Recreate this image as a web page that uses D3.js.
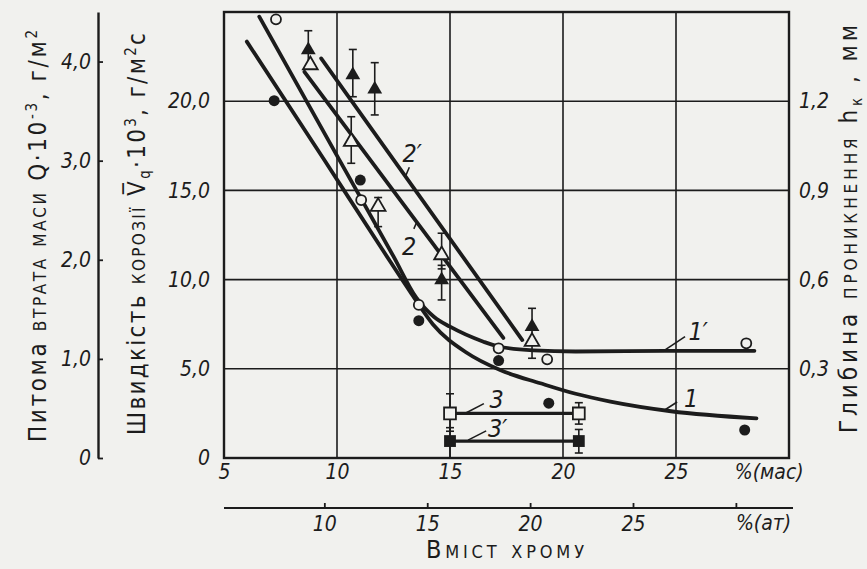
<!DOCTYPE html>
<html><head><meta charset="utf-8">
<script src="https://cdn.jsdelivr.net/npm/d3@7"></script>
<style>
body{margin:0;background:#f1f1ee;}
svg{display:block}
text{fill:#1c1c1c;font-family:"DejaVu Sans Condensed","DejaVu Sans",sans-serif;font-stretch:condensed;}
</style></head><body><svg id="c" width="867" height="569"></svg>
<script>
// ---- data ----
const massTicks=[5,10,15,20,25];
const atTicks=[10,15,20,25,30];
const atRef=[10,30], atRefMass=[9.44,27.65];   // at.% ↔ mass.% correspondence for the lower scale
const vTicks=[0,5,10,15,20];
const qTicks=[0,1,2,3,4];
const hTicks=[0.3,0.6,0.9,1.2];
const gridX=[10,15,20,25];
const gridY=[5,10,15,20];

const curve1=[[6.01,23.34],[9.44,16.70],[12.0,11.7],[13.3,9.2],[14.24,7.5],[15.74,5.9],[17.22,4.93],[19.0,4.19],[20.56,3.6],[22.1,3.16],[24.78,2.62],[28.56,2.22]];
const curve1p=[[6.56,24.74],[10.11,16.70],[12.5,11.3],[13.5,9.0],[14.3,7.9],[15.0,7.36],[16.48,6.52],[17.15,6.25],[18.69,6.03],[20.56,5.97],[24.5,6.0],[28.47,6.01]];
const line2=[[8.56,21.65],[17.36,6.73]];
const line2p=[[9.30,22.40],[18.2,6.61]];
const line3=[[15.0,2.5],[20.7,2.5]];
const line3p=[[15.0,0.95],[20.7,0.95]];

const openCircles=[[7.30,24.59],[11.07,14.46],[13.62,8.58],[17.15,6.15],[19.30,5.53],[28.11,6.43]];
const filledCircles=[[7.22,20.03],[11.03,15.58],[13.62,7.70],[17.15,5.46],[19.37,3.07],[28.04,1.57]];
const filledTriangles=[[8.73,22.87,21.9,23.95],[10.70,21.47,20.25,22.9],[11.67,20.67,19.23,22.16],[14.63,9.98,8.86,10.8],[18.63,7.36,5.59,8.39]];
const openTriangles=[[8.82,22.03,null,null],[10.63,17.73,16.52,19.13],[11.82,14.09,12.97,14.6],[14.63,11.38,10.6,12.6],[18.63,6.52,null,null]];
const openSquares=[[15.0,2.5,1.5,3.6],[20.7,2.5,1.9,3.1]];
const filledSquares=[[15.0,0.95,0.0,1.7],[20.7,0.95,0.28,1.6]];

// curve labels: [text, x, y, leaderX1, leaderY1, leaderX2, leaderY2] (data units)
const curveLabels=[
  ["1′",25.55,6.6,24.5,6.05,25.4,6.8],
  ["1",25.35,2.86,24.5,2.69,25.05,3.14],
  ["2′",12.9,16.6,13.05,15.85,13.2,16.3],
  ["2",12.88,11.4,13.4,12.84,13.52,13.2],
  ["3",16.75,2.8,15.7,2.52,16.5,3.05],
  ["3′",16.68,1.18,15.8,1.0,16.6,1.52]
];

// ---- drawing ----
const W=867,H=569, ink="#1c1c1c", bg="#f1f1ee";
const svg=d3.select("#c");
svg.append("rect").attr("width",W).attr("height",H).attr("fill",bg);

const xM=d3.scaleLinear().domain([5,30]).range([224,789]);
const yV=d3.scaleLinear().domain([0,25]).range([458,12]);
const yQ=d3.scaleLinear().domain([0,4.5]).range([458,12]);
const yH=d3.scaleLinear().domain([0,1.5]).range([458,12]);
const xA=d3.scaleLinear().domain(atRef).range(atRefMass.map(xM));
const comma=d=>d===0?"0":d3.format(".1f")(d).replace(".",",");

// grid
svg.append("g").selectAll("line").data(gridX).join("line")
  .attr("x1",d=>xM(d)).attr("x2",d=>xM(d)).attr("y1",yV(25)).attr("y2",yV(0))
  .attr("stroke",ink).attr("stroke-width",1.6);
svg.append("g").selectAll("line").data(gridY).join("line")
  .attr("x1",xM(5)).attr("x2",xM(30)).attr("y1",d=>yV(d)).attr("y2",d=>yV(d))
  .attr("stroke",ink).attr("stroke-width",1.6);
svg.append("rect").attr("x",xM(5)).attr("y",yV(25)).attr("width",xM(30)-xM(5)).attr("height",yV(0)-yV(25))
  .attr("fill","none").attr("stroke",ink).attr("stroke-width",2.4);

function styleAxis(g){
  g.selectAll("text").attr("font-size",21).attr("font-style","italic").attr("fill",ink);
  g.selectAll("line").attr("stroke",ink).attr("stroke-width",1.8);
  g.selectAll("path").attr("stroke",ink).attr("stroke-width",2.4);
}
// mass axis
const gm=svg.append("g").attr("transform",`translate(0,${yV(0)})`)
  .call(d3.axisBottom(xM).tickValues(massTicks).tickSize(0).tickPadding(6).tickFormat(d3.format("d")));
gm.select(".domain").remove(); styleAxis(gm);
svg.append("text").attr("x",xM(27.6)).attr("y",yV(0)+21).attr("font-size",21).attr("font-style","italic").text("%(мас)");

// at axis
svg.append("line").attr("x1",xM(5)).attr("x2",xM(30)+4).attr("y1",508).attr("y2",508).attr("stroke",ink).attr("stroke-width",2.2);
const ga=svg.append("g").attr("transform","translate(0,508)")
  .call(d3.axisBottom(xA).tickValues(atTicks).tickSizeInner(-5).tickSizeOuter(0).tickPadding(8).tickFormat(d=>d===30?"":d));
ga.select(".domain").remove(); styleAxis(ga);
svg.append("text").attr("x",xA(30)).attr("y",530).attr("font-size",21).attr("font-style","italic").text("%(ат)");

// Q axis
const gq=svg.append("g").attr("transform","translate(98,0)")
  .call(d3.axisLeft(yQ).tickValues(qTicks).tickSizeInner(-5).tickSizeOuter(0).tickPadding(7).tickFormat(comma));
styleAxis(gq);
// V axis
const gv=svg.append("g").attr("transform",`translate(${xM(5)},0)`)
  .call(d3.axisLeft(yV).tickValues(vTicks).tickSize(0).tickPadding(14).tickFormat(comma));
gv.select(".domain").remove(); styleAxis(gv);
// h axis
const gh=svg.append("g").attr("transform",`translate(${xM(30)},0)`)
  .call(d3.axisRight(yH).tickValues(hTicks).tickSize(0).tickPadding(10).tickFormat(comma));
gh.select(".domain").remove(); styleAxis(gh);

// titles
function vtitle(x,y,len){
  return svg.append("text").attr("transform",`translate(${x},${y}) rotate(-90)`)
    .attr("text-anchor","middle").attr("font-size",24).attr("textLength",len).attr("lengthAdjust","spacing");
}
const t1=vtitle(46,236,412);
t1.append("tspan").text("Питома ");
t1.append("tspan").attr("font-variant","small-caps").text("втрата маси ");
t1.append("tspan").text("Q·10");
t1.append("tspan").attr("font-size",15).attr("dy",-9).text("-3");
t1.append("tspan").attr("dy",9).text(", г/м");
t1.append("tspan").attr("font-size",15).attr("dy",-9).text("2");

const t2=vtitle(145,234,402);
t2.append("tspan").text("Швидкість ");
t2.append("tspan").attr("font-variant","small-caps").text("корозії ");
t2.append("tspan").text("V\u0305");
t2.append("tspan").attr("font-size",15).attr("dy",5).text("q");
t2.append("tspan").attr("dy",-5).text("·10");
t2.append("tspan").attr("font-size",15).attr("dy",-9).text("3");
t2.append("tspan").attr("dy",9).text(", г/м");
t2.append("tspan").attr("font-size",15).attr("dy",-9).text("2");
t2.append("tspan").attr("dy",9).text("с");

const t3=vtitle(857,229,408);
t3.append("tspan").text("Глибина ");
t3.append("tspan").attr("font-variant","small-caps").text("проникнення ");
t3.append("tspan").text("h");
t3.append("tspan").attr("font-size",15).attr("dy",5).text("к");
t3.append("tspan").attr("dy",-5).text(" , мм");

svg.append("text").attr("x",505).attr("y",558).attr("text-anchor","middle").attr("font-size",25)
  .attr("font-variant","small-caps").attr("textLength",158).attr("lengthAdjust","spacing").text("Вміст хрому");

// curves
const lineGen=d3.line().x(d=>xM(d[0])).y(d=>yV(d[1])).curve(d3.curveMonotoneX);
const linLin=d3.line().x(d=>xM(d[0])).y(d=>yV(d[1]));
const gc=svg.append("g").attr("fill","none").attr("stroke",ink).attr("stroke-width",3.8).attr("stroke-linecap","round");
gc.append("path").attr("d",lineGen(curve1));
gc.append("path").attr("d",lineGen(curve1p));
gc.append("path").attr("d",linLin(line2));
gc.append("path").attr("d",linLin(line2p));
gc.append("path").attr("d",linLin(line3)).attr("stroke-width",3.2);
gc.append("path").attr("d",linLin(line3p)).attr("stroke-width",3.2);

// error bars
const bars=[...filledTriangles,...openTriangles,...openSquares,...filledSquares].filter(d=>d[2]!==null);
const gb=svg.append("g").attr("stroke",ink).attr("stroke-width",1.6);
bars.forEach(d=>{
  gb.append("line").attr("x1",xM(d[0])).attr("x2",xM(d[0])).attr("y1",yV(d[2])).attr("y2",yV(d[3]));
  [d[2],d[3]].forEach(v=>gb.append("line").attr("x1",xM(d[0])-4).attr("x2",xM(d[0])+4).attr("y1",yV(v)).attr("y2",yV(v)));
});

// markers
const gmk=svg.append("g");
gmk.selectAll(".oc").data(openCircles).join("circle").attr("cx",d=>xM(d[0])).attr("cy",d=>yV(d[1])).attr("r",5)
  .attr("fill",bg).attr("stroke",ink).attr("stroke-width",1.8);
gmk.selectAll(".fc").data(filledCircles).join("circle").attr("cx",d=>xM(d[0])).attr("cy",d=>yV(d[1])).attr("r",5.5)
  .attr("fill",ink);
const tri=d3.symbol(d3.symbolTriangle,95), sq=d3.symbol(d3.symbolSquare,140);
gmk.selectAll(".ft").data(filledTriangles).join("path").attr("d",tri).attr("transform",d=>`translate(${xM(d[0])},${yV(d[1])})`).attr("fill",ink);
gmk.selectAll(".ot").data(openTriangles).join("path").attr("d",tri).attr("transform",d=>`translate(${xM(d[0])},${yV(d[1])})`)
  .attr("fill",bg).attr("stroke",ink).attr("stroke-width",1.8);
gmk.selectAll(".os").data(openSquares).join("path").attr("d",sq).attr("transform",d=>`translate(${xM(d[0])},${yV(d[1])})`)
  .attr("fill",bg).attr("stroke",ink).attr("stroke-width",1.8);
gmk.selectAll(".fs").data(filledSquares).join("path").attr("d",sq).attr("transform",d=>`translate(${xM(d[0])},${yV(d[1])})`).attr("fill",ink);

// curve labels
const gl=svg.append("g");
curveLabels.forEach(d=>{
  gl.append("line").attr("x1",xM(d[3])).attr("y1",yV(d[4])).attr("x2",xM(d[5])).attr("y2",yV(d[6]))
    .attr("stroke",ink).attr("stroke-width",1.6);
  gl.append("text").attr("x",xM(d[1])).attr("y",yV(d[2])).attr("font-size",25).attr("font-style","italic").text(d[0]);
});
</script></body></html>
